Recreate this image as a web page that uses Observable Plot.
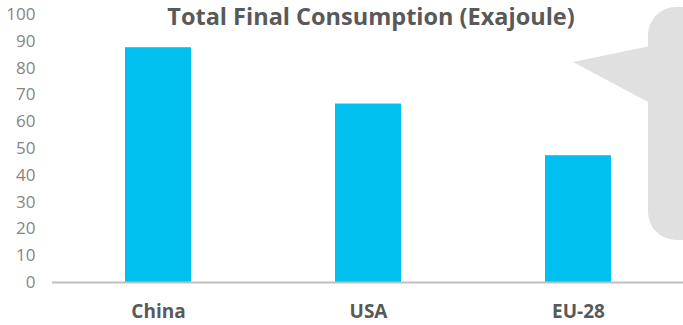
<!DOCTYPE html>
<html>
<head>
<meta charset="utf-8">
<script src="https://cdn.jsdelivr.net/npm/d3@7"></script>
<script src="https://cdn.jsdelivr.net/npm/@observablehq/plot@0.6"></script>
<style>
  html, body { margin: 0; padding: 0; background: #fff; }
  #wrap { position: relative; width: 683px; height: 325px; overflow: hidden; }
  #bubble { position: absolute; left: 0; top: 0; }
  #chart { position: absolute; left: 0; top: 0; }
  #title { position: absolute; left: 131px; top: 0px; width: 480px; text-align: center;
           font-family: "Open Sans", sans-serif; font-weight: 700; font-size: 23.5px; color: #595959; white-space: nowrap; }
</style>
</head>
<body>
<div id="wrap">
  <svg id="bubble" width="683" height="325">
    <rect x="648" y="7" width="80" height="233" rx="28" ry="28" fill="#e0e0e0"></rect>
    <polygon points="573,62 650,46 650,103" fill="#e0e0e0"></polygon>
  </svg>
  <div id="chart"></div>
  <div id="title">Total Final Consumption (Exajoule)</div>
</div>
<script>
const regions = ["China", "USA", "EU-28"];
const consumption = [87.6, 66.6, 47.3];
const yTicks = [0, 10, 20, 30, 40, 50, 60, 70, 80, 90, 100];
const title = "Total Final Consumption (Exajoule)";

const data = regions.map((r, i) => ({region: r, value: consumption[i]}));

const chart = Plot.plot({
  width: 683,
  height: 325,
  marginLeft: 52,
  marginRight: 0,
  marginTop: 14,
  marginBottom: 43,
  style: {background: "transparent", fontFamily: "Open Sans, sans-serif"},
  x: {domain: regions, paddingInner: 0.686, paddingOuter: 0.343, label: null},
  y: {domain: [0, 100], label: null},
  marks: [
    Plot.barY(data, {x: "region", y: "value", fill: "#00c0f0"}),
    Plot.ruleY([0], {stroke: "#bfbfbf", strokeWidth: 2}),
    Plot.axisY({ticks: yTicks, tickSize: 0, tickPadding: 17, fontSize: 17, fill: "#858585", label: null}),
    Plot.axisX({tickSize: 0, tickPadding: 22, fontSize: 19, fontWeight: "bold", fill: "#595959", label: null})
  ]
});
chart.style.overflow = "visible";
document.getElementById("chart").appendChild(chart);
document.getElementById("title").textContent = title;
</script>
</body>
</html>
